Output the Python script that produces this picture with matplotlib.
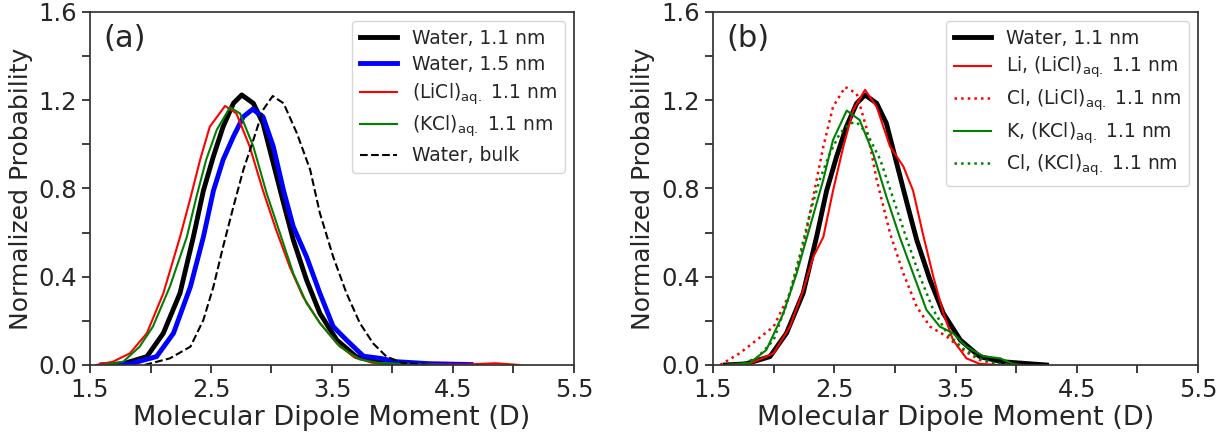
import numpy as np
import matplotlib
matplotlib.use('Agg')
import matplotlib.pyplot as plt
from matplotlib.ticker import MultipleLocator

# ---- data (dipole moment in D, normalized probability)
# water 1.1 nm (same curve in both panels)
w11_x = [1.60, 1.77, 1.97, 2.106, 2.244, 2.354, 2.437, 2.519, 2.60, 2.685, 2.754,
         2.85, 2.93, 3.015, 3.10, 3.18, 3.29, 3.40, 3.54, 3.70, 3.88, 4.05, 4.25]
w11_y = [0.0, 0.005, 0.038, 0.144, 0.326, 0.58, 0.79, 0.944, 1.08, 1.186, 1.224,
         1.186, 1.095, 0.914, 0.733, 0.567, 0.385, 0.234, 0.113, 0.038, 0.015, 0.008, 0.0]

# water 1.5 nm
w15_x = [1.60, 1.83, 2.05, 2.19, 2.33, 2.437, 2.52, 2.60, 2.685, 2.767, 2.844,
         2.93, 3.015, 3.10, 3.18, 3.29, 3.40, 3.51, 3.62, 3.76, 3.90, 4.03, 4.30, 4.65]
w15_y = [0.0, 0.005, 0.038, 0.144, 0.355, 0.58, 0.79, 0.93, 1.035, 1.125, 1.159,
         1.125, 0.99, 0.79, 0.627, 0.49, 0.325, 0.174, 0.113, 0.04, 0.03, 0.015, 0.006, 0.002]

# (LiCl)aq 1.1 nm
licl_x = [1.55, 1.69, 1.83, 1.97, 2.106, 2.244, 2.326, 2.41, 2.49, 2.616, 2.71,
          2.82, 2.93, 3.04, 3.15, 3.26, 3.40, 3.54, 3.676, 3.83, 4.10, 4.60, 4.85, 5.05]
licl_y = [0.0, 0.015, 0.053, 0.144, 0.325, 0.58, 0.748, 0.93, 1.08, 1.174, 1.14,
          0.99, 0.79, 0.61, 0.446, 0.31, 0.19, 0.098, 0.038, 0.01, 0.002, 0.002, 0.008, 0.0]

# (KCl)aq 1.1 nm
kcl_x = [1.60, 1.775, 1.91, 2.02, 2.16, 2.30, 2.38, 2.46, 2.547, 2.657, 2.74,
         2.85, 2.96, 3.07, 3.18, 3.29, 3.40, 3.566, 3.73, 3.88, 4.10, 4.40]
kcl_y = [0.0, 0.015, 0.083, 0.174, 0.355, 0.58, 0.763, 0.93, 1.065, 1.168, 1.14,
         0.99, 0.778, 0.597, 0.415, 0.28, 0.19, 0.083, 0.025, 0.01, 0.004, 0.0]

# bulk water
bulk_x = [1.95, 2.16, 2.33, 2.437, 2.52, 2.60, 2.685, 2.767, 2.85, 2.93, 3.01,
          3.10, 3.21, 3.32, 3.40, 3.51, 3.62, 3.73, 3.84, 3.95, 4.08, 4.30]
bulk_y = [0.0, 0.03, 0.083, 0.204, 0.355, 0.536, 0.717, 0.884, 1.02, 1.156, 1.219,
          1.186, 1.05, 0.884, 0.688, 0.49, 0.325, 0.19, 0.098, 0.038, 0.01, 0.0]

# panel (b): first-shell water around each ion
li_x = [1.60, 1.80, 2.0, 2.135, 2.245, 2.327, 2.41, 2.49, 2.575, 2.657, 2.754,
        2.85, 2.96, 3.07, 3.15, 3.23, 3.317, 3.40, 3.48, 3.59, 3.70, 3.85]
li_y = [0.0, 0.005, 0.053, 0.174, 0.34, 0.49, 0.58, 0.79, 0.99, 1.156, 1.247,
        1.17, 0.99, 0.90, 0.79, 0.597, 0.40, 0.234, 0.113, 0.03, 0.005, 0.0]

cl_li_x = [1.56, 1.72, 1.86, 2.0, 2.135, 2.245, 2.327, 2.41, 2.49, 2.59, 2.685,
           2.77, 2.85, 2.96, 3.07, 3.18, 3.29, 3.43, 3.56, 3.70, 3.83, 3.95]
cl_li_y = [0.0, 0.053, 0.113, 0.174, 0.325, 0.536, 0.763, 0.99, 1.17, 1.26, 1.23,
           1.065, 0.84, 0.597, 0.415, 0.264, 0.174, 0.128, 0.068, 0.023, 0.005, 0.0]

k_x = [1.60, 1.805, 1.94, 2.08, 2.19, 2.30, 2.41, 2.49, 2.603, 2.71, 2.82,
       2.93, 3.04, 3.15, 3.26, 3.37, 3.48, 3.59, 3.73, 3.87, 3.97, 4.05]
k_y = [0.0, 0.01, 0.068, 0.234, 0.415, 0.627, 0.84, 1.02, 1.153, 1.11, 0.96,
       0.763, 0.58, 0.415, 0.25, 0.174, 0.144, 0.083, 0.04, 0.03, 0.005, 0.0]

cl_k_x = [1.70, 1.86, 2.0, 2.11, 2.22, 2.30, 2.38, 2.465, 2.547, 2.63, 2.685,
          2.77, 2.88, 2.99, 3.10, 3.207, 3.317, 3.43, 3.56, 3.70, 3.83, 3.95]
cl_k_y = [0.0, 0.03, 0.113, 0.28, 0.506, 0.688, 0.84, 0.96, 1.05, 1.095, 1.10,
          1.05, 0.93, 0.748, 0.567, 0.40, 0.25, 0.144, 0.075, 0.03, 0.007, 0.0]

txt = '#262626'
plt.rcParams['font.family'] = ['DejaVu Sans']
plt.rcParams['text.color'] = txt
plt.rcParams['axes.labelcolor'] = txt
plt.rcParams['xtick.color'] = txt
plt.rcParams['ytick.color'] = txt
plt.rcParams['mathtext.fontset'] = 'dejavusans'

fig = plt.figure(figsize=(12.28, 4.38), dpi=100)
axa = fig.add_axes([0.0733, 0.1667, 0.3941, 0.806])
axb = fig.add_axes([0.5806, 0.1667, 0.3950, 0.806])

axa.plot(w11_x, w11_y, color='k', lw=3.5, label='Water, 1.1 nm', solid_joinstyle='round')
axa.plot(w15_x, w15_y, color='b', lw=3.5, label='Water, 1.5 nm', solid_joinstyle='round')
axa.plot(licl_x, licl_y, color='r', lw=1.5, label=r'(LiCl)$_{\rm aq.}$ 1.1 nm')
axa.plot(kcl_x, kcl_y, color='g', lw=1.5, label=r'(KCl)$_{\rm aq.}$ 1.1 nm')
axa.plot(bulk_x, bulk_y, color='k', lw=1.5, ls='--', label='Water, bulk')

axb.plot(w11_x, w11_y, color='k', lw=3.5, label='Water, 1.1 nm', solid_joinstyle='round')
axb.plot(li_x, li_y, color='r', lw=1.5, label=r'Li, (LiCl)$_{\rm aq.}$ 1.1 nm')
axb.plot(cl_li_x, cl_li_y, color='r', lw=1.8, ls=':', label=r'Cl, (LiCl)$_{\rm aq.}$ 1.1 nm')
axb.plot(k_x, k_y, color='g', lw=1.5, label=r'K, (KCl)$_{\rm aq.}$ 1.1 nm')
axb.plot(cl_k_x, cl_k_y, color='g', lw=1.8, ls=':', label=r'Cl, (KCl)$_{\rm aq.}$ 1.1 nm')

for ax, tag in [(axa, '(a)'), (axb, '(b)')]:
    ax.set_xlim(1.5, 5.5)
    ax.set_ylim(0, 1.6)
    ax.xaxis.set_major_locator(MultipleLocator(1.0))
    ax.xaxis.set_minor_locator(MultipleLocator(0.5))
    ax.yaxis.set_major_locator(MultipleLocator(0.4))
    ax.yaxis.set_minor_locator(MultipleLocator(0.2))
    ax.set_xticks(np.arange(1.5, 5.6, 1.0))
    ax.tick_params(which='both', direction='out', length=6, width=1.25, labelsize=17.5)
    for s in ax.spines.values():
        s.set_color('#333333')
        s.set_linewidth(1.25)
    ax.set_xlabel('Molecular Dipole Moment (D)', fontsize=19.5, labelpad=2)
    ax.set_ylabel('Normalized Probability', fontsize=18)
    ax.text(0.028, 0.965, tag, transform=ax.transAxes, fontsize=22, va='top')
    ax.legend(loc='upper right', fontsize=13.5, borderaxespad=0.5, labelspacing=0.38)

fig.savefig('out.png', dpi=100)
